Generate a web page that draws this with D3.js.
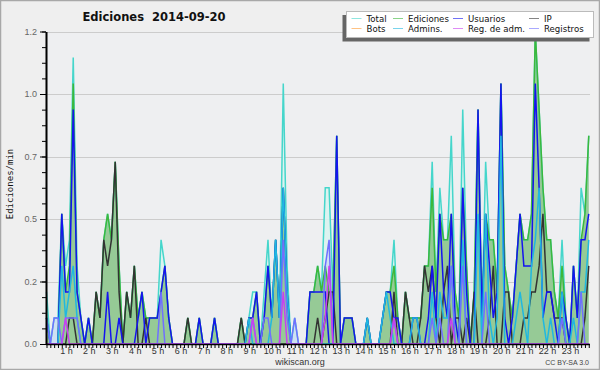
<!DOCTYPE html>
<html><head><meta charset="utf-8">
<script src="https://cdn.jsdelivr.net/npm/d3@7"></script>
<style>html,body{margin:0;padding:0;background:#efefef;} svg{display:block;}</style>
</head><body>
<svg id="c" width="600" height="370"></svg>
<script>
// ---- data (edits per minute, 10-minute bins from 00:00 to 23:40) ----
const hourLabels = ["1 h","2 h","3 h","4 h","5 h","6 h","7 h","8 h","9 h","10 h","11 h","12 h",
  "13 h","14 h","15 h","16 h","17 h","18 h","19 h","20 h","21 h","22 h","23 h"];
const yTickValues = [0, 0.24, 0.48, 0.72, 0.96, 1.2];
const yTickLabels = ["0.0", "0.2", "0.5", "0.7", "1.0", "1.2"];
const legendNames = ["Total", "Ediciones", "Usuarios", "IP", "Bots", "Admins.", "Reg. de adm.", "Registros"];

const total = [0.2,0,0.1,0.1,0.5,0.3,0.4,1.1,0.3,0.1,
 0,0.1,0,0.2,0.1,0.4,0.5,0.4,0.7,0.3,
 0,0.2,0.1,0.3,0.1,0.2,0.1,0.1,0.1,0.1,
 0.4,0.3,0.1,0,0,0,0,0.1,0,0,
 0.1,0,0,0,0.1,0,0,0,0,0,
 0,0.1,0,0.1,0.2,0.2,0,0.2,0.4,0.1,
 0.4,0.1,1.0,0.3,0,0.1,0,0,0,0.2,
 0.2,0.3,0.2,0.6,0.6,0.2,0.8,0,0.1,0.1,
 0.1,0,0,0,0.1,0,0,0,0.1,0.2,
 0.2,0.4,0.1,0,0.2,0.1,0.1,0.1,0.1,0.3,
 0.3,0.7,0.2,0.6,0.4,0.4,0.8,0.2,0.1,0.9,
 0.3,0,0.2,0.9,0.1,0.7,0.4,0.4,0.2,1.0,
 0.3,0.2,0.1,0.3,0.5,0.4,0.4,0.5,1.2,0.9,
 0.6,0.4,0.4,0.2,0.1,0.4,0.1,0,0.3,0.1,
 0.6,0.5,0.8];
const ediciones = [0.1,0,0,0,0.5,0.2,0.3,1.0,0.2,0.1,
 0,0.1,0,0.2,0.1,0.4,0.5,0.4,0.7,0.3,
 0,0.2,0.1,0.3,0.1,0.2,0.1,0.1,0.1,0.1,
 0.2,0.3,0.1,0,0,0,0,0.1,0,0,
 0.1,0,0,0,0.1,0,0,0,0,0,
 0,0.1,0,0.1,0.1,0.2,0,0.1,0.3,0.1,
 0.4,0.1,0.6,0.2,0,0,0,0,0,0.2,
 0.2,0.3,0.2,0.3,0.2,0.2,0.8,0,0.1,0.1,
 0.1,0,0,0,0.1,0,0,0,0.1,0.2,
 0.2,0.3,0.1,0,0.2,0.1,0.1,0.1,0.1,0.3,
 0.3,0.6,0.2,0.5,0.4,0.4,0.5,0.2,0.1,0.6,
 0.3,0,0.2,0.9,0.1,0.5,0.4,0.4,0.2,1.0,
 0.3,0.2,0.1,0.3,0.5,0.4,0.4,0.5,1.2,0.9,
 0.6,0.4,0.4,0.2,0.1,0.3,0.1,0,0.3,0.1,
 0.4,0.5,0.8];
const usuarios = [0.1,0,0,0,0.5,0.2,0.2,0.9,0.2,0.1,
 0,0.1,0,0,0,0,0.2,0,0,0.1,
 0,0,0,0,0.1,0.2,0,0.1,0.1,0.1,
 0.2,0.3,0.1,0,0,0,0,0,0,0,
 0.1,0,0,0,0.1,0,0,0,0,0,
 0,0,0,0.1,0.1,0.2,0,0.1,0.3,0.1,
 0.4,0.1,0.6,0.2,0,0,0,0,0,0.2,
 0.2,0.2,0.2,0.2,0,0,0.8,0,0.1,0.1,
 0.1,0,0,0,0.1,0,0,0,0.1,0.2,
 0.2,0.1,0.1,0,0,0,0.1,0.1,0,0,
 0.1,0.3,0.1,0.5,0.2,0.1,0.5,0.1,0,0.6,
 0.2,0,0,0.9,0.1,0.5,0.3,0.1,0.2,1.0,
 0.1,0,0.1,0.3,0.5,0.3,0.3,0.3,1.0,0.6,
 0.1,0.2,0.2,0.1,0,0.2,0.1,0,0.3,0.1,
 0.4,0.4,0.5];
const ip = [0,0,0,0,0,0,0.1,0.1,0,0,
 0,0,0,0.2,0.1,0.4,0.3,0.4,0.7,0.2,
 0,0.2,0.1,0.3,0,0,0.1,0,0,0,
 0,0,0,0,0,0,0,0.1,0,0,
 0,0,0,0,0,0,0,0,0,0,
 0,0.1,0,0,0,0,0,0,0,0,
 0,0,0,0,0,0,0,0,0,0,
 0,0.1,0,0.1,0.2,0.2,0,0,0,0,
 0,0,0,0,0,0,0,0,0,0,
 0,0.2,0,0,0.2,0.1,0,0,0.1,0.3,
 0.2,0.3,0.1,0,0.2,0.3,0,0.1,0.1,0,
 0.1,0,0.2,0,0,0,0.1,0.3,0,0,
 0.2,0.2,0,0,0,0.1,0.1,0.2,0.2,0.3,
 0.5,0.2,0.2,0.1,0.1,0.1,0,0,0,0,
 0,0.1,0.3];
const bots = []; // no bot edits on this day
const admins = [0.1,0,0,0,0.3,0.1,0.2,0.3,0.1,0,
 0,0,0,0,0,0,0,0,0,0,
 0,0,0,0,0,0,0,0,0,0,
 0,0,0,0,0,0,0,0,0,0,
 0,0,0,0,0,0,0,0,0,0,
 0,0,0,0.1,0,0,0,0,0,0.1,
 0.4,0.1,0.6,0.2,0,0,0,0,0,0,
 0,0,0,0,0,0,0,0,0,0,
 0,0,0,0,0.1,0,0,0,0.1,0.2,
 0.1,0,0,0,0,0,0.1,0.1,0,0,
 0,0.2,0,0.2,0.1,0.1,0.3,0,0,0.4,
 0,0,0,0.5,0,0.5,0.1,0,0.1,0.8,
 0,0,0,0.1,0.2,0.1,0,0.3,0.4,0.6,
 0.1,0,0.1,0,0,0.2,0,0,0.1,0,
 0.2,0.2,0.4];
const regAdm = [0,0,0,0,0,0.1,0,0,0,0,
 0,0,0,0,0,0,0,0,0,0,
 0,0,0,0,0,0,0,0,0,0,
 0,0,0,0,0,0,0,0,0,0,
 0,0,0,0,0,0,0,0,0,0,
 0,0,0,0,0.1,0,0,0,0,0,
 0,0,0.2,0,0,0,0,0,0,0,
 0,0,0,0.1,0.3,0,0,0,0,0,
 0,0,0,0,0,0,0,0,0,0,
 0,0.1,0,0,0,0,0,0,0,0,
 0,0,0,0,0,0,0.1,0,0,0,
 0,0,0,0,0,0,0,0,0,0,
 0,0,0,0,0,0,0,0,0,0,
 0,0,0,0,0,0,0,0,0,0,
 0,0,0];
const registros = [0.1,0,0.1,0.1,0,0.1,0.1,0.1,0.1,0,
 0,0,0,0,0,0,0,0,0,0,
 0,0,0,0,0,0,0,0,0,0,
 0.2,0,0,0,0,0,0,0,0,0,
 0,0,0,0,0,0,0,0,0,0,
 0,0,0,0,0.1,0,0,0.1,0.1,0,
 0,0,0.4,0.1,0,0.1,0,0,0,0,
 0,0,0,0.3,0.4,0,0,0,0,0,
 0,0,0,0,0,0,0,0,0,0,
 0,0.1,0,0,0,0,0,0,0,0,
 0,0.1,0,0.1,0,0,0.3,0,0,0.3,
 0,0,0,0,0,0.2,0,0,0,0,
 0,0,0,0,0,0,0,0,0,0,
 0,0,0,0,0,0.1,0,0,0,0,
 0.2,0,0];

// ---- drawing ----
const colors = {
  total: "#45d6cb", ediciones: "#3cb83c", usuarios: "#1414f0", ip: "#333333",
  bots: "#ff9a30", admins: "#20b8e0", regAdm: "#c840f0", registros: "#7070ff"
};
const svg = d3.select("#c");
const PL = 46, PR = 590, PT = 31.5, PB = 344;
const x = d3.scaleLinear().domain([0, 144]).range([46.5, 596.4]);
const y = d3.scaleLinear().domain([0, 1.2]).range([PB, PT]);

svg.append("rect").attr("x", 0.5).attr("y", 0.5).attr("width", 599).attr("height", 369)
  .attr("fill", "#efefef").attr("stroke", "#a8a8a8").attr("stroke-width", 1.5);
svg.append("rect").attr("x", PL).attr("y", PT).attr("width", PR - PL).attr("height", PB - PT)
  .attr("fill", "#eeeff1");

// grid
svg.append("g").selectAll("line").data(yTickValues.slice(1)).join("line")
  .attr("x1", PL).attr("x2", PR).attr("y1", d => Math.round(y(d)) + 0.5).attr("y2", d => Math.round(y(d)) + 0.5)
  .attr("stroke", "#cccccc").attr("stroke-width", 1);

// series
const line = d3.line().x((d, i) => x(i)).y(d => y(d));
const area = d3.area().x((d, i) => x(i)).y0(y(0)).y1(d => y(d));
const g = svg.append("g");
g.append("path").datum(total).attr("d", area).attr("fill", "#d9f3ef").attr("fill-opacity", 0.9);
g.append("path").datum(registros).attr("d", area).attr("fill", "#c4d6f4").attr("fill-opacity", 0.6);
g.append("path").datum(ediciones).attr("d", area).attr("fill", "#96ca96");
const order = [["total", total], ["ediciones", ediciones], ["ip", ip], ["usuarios", usuarios],
  ["bots", bots], ["admins", admins], ["registros", registros], ["regAdm", regAdm]];
order.forEach(([k, data]) => {
  if (!data.length) return;
  g.append("path").datum(data).attr("d", line).attr("fill", "none")
    .attr("stroke", colors[k]).attr("stroke-width", 1.5).attr("stroke-linejoin", "miter");
});

// axes
const yAxis = d3.axisLeft(y).tickValues(yTickValues).tickFormat((d, i) => yTickLabels[i])
  .tickSize(6).tickSizeOuter(0).tickPadding(3);
const yMinor = d3.axisLeft(y).tickValues(d3.range(0, 1.2001, 0.06)).tickFormat("").tickSize(4).tickSizeOuter(0);
const ya = svg.append("g").attr("transform", `translate(${PL},0)`).call(yAxis);
const ym = svg.append("g").attr("transform", `translate(${PL},0)`).call(yMinor);
[ya, ym].forEach(a => { a.select(".domain").attr("stroke", "#000").attr("stroke-width", 1.6);
  a.selectAll(".tick line").attr("stroke", "#000"); });
ya.selectAll("text").attr("font-family", "Liberation Sans, Arial, sans-serif").attr("font-size", 9).attr("fill", "#666");

const xAxis = d3.axisBottom(x).tickValues(d3.range(0, 143)).tickFormat("").tickSize(4).tickSizeOuter(0);
const xa = svg.append("g").attr("transform", `translate(0,${PB})`).call(xAxis);
xa.select(".domain").attr("d", `M${PL},0.5H${PR}`).attr("stroke", "#000").attr("stroke-width", 1.6);
xa.selectAll(".tick line").attr("stroke", "#000");
svg.append("g").selectAll("text").data(hourLabels).join("text")
  .attr("x", (d, i) => x((i + 1) * 6) - 3).attr("y", 354).attr("text-anchor", "middle")
  .attr("font-family", "Liberation Sans, Arial, sans-serif").attr("font-size", 9).attr("fill", "#333")
  .text(d => d);

// titles
svg.append("text").attr("x", 154).attr("y", 21).attr("text-anchor", "middle")
  .attr("font-family", "DejaVu Sans, sans-serif").attr("font-weight", "bold").attr("font-size", 11.5)
  .attr("fill", "#111").text("Ediciones\u00a0\u00a02014-09-20");
svg.append("text").attr("transform", "translate(13,184) rotate(-90)").attr("text-anchor", "middle")
  .attr("font-family", "DejaVu Sans Mono, monospace").attr("font-size", 9).attr("fill", "#111")
  .text("Ediciones/min");
svg.append("text").attr("x", 300).attr("y", 365).attr("text-anchor", "middle")
  .attr("font-family", "Liberation Sans, Arial, sans-serif").attr("font-size", 9).attr("fill", "#333")
  .text("wikiscan.org");
svg.append("text").attr("x", 589).attr("y", 365).attr("text-anchor", "end")
  .attr("font-family", "Liberation Sans, Arial, sans-serif").attr("font-size", 7).attr("fill", "#444")
  .text("CC BY-SA 3.0");

// legend
const lg = svg.append("g");
lg.append("rect").attr("x", 342.5).attr("y", 15).attr("width", 247).attr("height", 26.5).attr("fill", "#666");
lg.append("rect").attr("x", 346.5).attr("y", 11.5).attr("width", 247).attr("height", 26).attr("fill", "#fff").attr("stroke", "#bbb");
const colX = [351.5, 393, 453, 529];
const keys = ["total", "ediciones", "usuarios", "ip", "bots", "admins", "regAdm", "registros"];
legendNames.forEach((name, i) => {
  const c = i % 4, r = Math.floor(i / 4);
  const ly = 18.5 + r * 10;
  lg.append("line").attr("x1", colX[c]).attr("x2", colX[c] + 10).attr("y1", ly).attr("y2", ly)
    .attr("stroke", colors[keys[i]]).attr("stroke-width", 1).attr("stroke-opacity", 0.6);
  lg.append("text").attr("x", colX[c] + 15).attr("y", ly + 3.3)
    .attr("font-family", "DejaVu Sans, sans-serif").attr("font-size", 8.6).attr("fill", "#111").text(name);
});
</script>
</body></html>
